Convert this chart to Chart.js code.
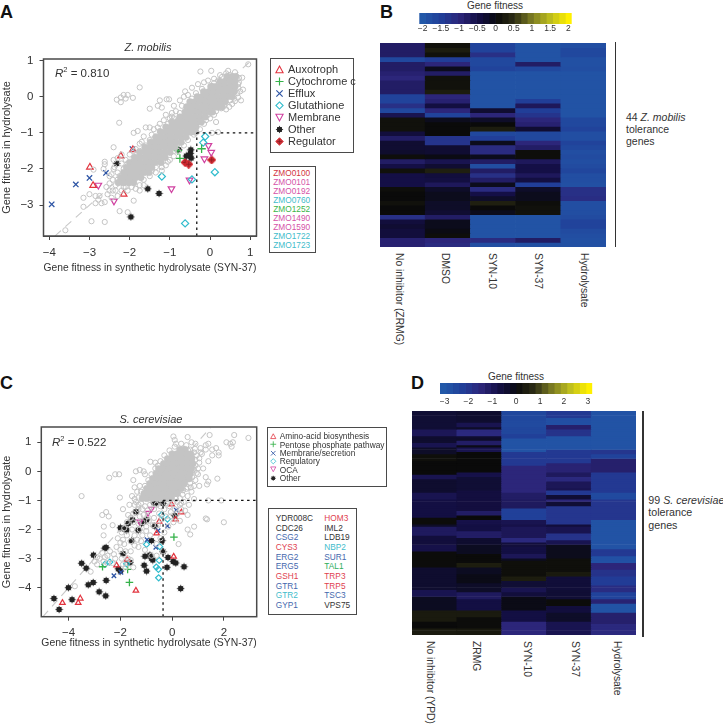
<!DOCTYPE html>
<html><head><meta charset="utf-8">
<script src="https://cdn.jsdelivr.net/npm/chart.js@4"></script>
<style>
html,body{margin:0;padding:0;background:#fff;width:723px;height:725px;overflow:hidden}
body{font-family:"Liberation Sans",Arial,sans-serif;color:#333;position:relative;filter:blur(.35px)}
canvas{position:absolute;display:block}
.t{position:absolute;white-space:nowrap;line-height:1}
.box{position:absolute;border:1.5px solid #4a4a4a;background:#fff;box-sizing:border-box}
.v{position:absolute;writing-mode:vertical-rl;white-space:nowrap;font-size:10.3px;line-height:1;transform:translateX(-50%)}
.bar{position:absolute;background:#333;width:1.6px}
.L{position:absolute;font-weight:bold;color:#111;line-height:1}
</style></head><body>
<script>
/* ---------- Panel A values ---------- */
const xTicksA=[-4,-3,-2,-1,0,1], yTicksA=[-3,-2,-1,0,1];
const xTicksC=[-4,-2,0,2], yTicksC=[-4,-3,-2,-1,0,1];
const coreRowsA=[
[.56,.42,.55,.64],[.42,.25,.37,.5,.62],[.28,.02,.14,.26,.38,.5,.62],[.14,-.16,-.03,.09,.22,.35,.47,.6],
[0,-.32,-.2,-.07,.05,.18,.3,.43,.55],[-.14,-.5,-.38,-.25,-.12,0,.13,.26,.38],[-.28,-.58,-.45,-.33,-.2,-.08,.05,.17,.3],
[-.42,-.62,-.5,-.37,-.25,-.12,0,.06],[-.56,-.75,-.62,-.5,-.37,-.25,-.12],[-.7,-.95,-.82,-.7,-.57,-.45,-.32,-.22],
[-.84,-1.1,-.97,-.85,-.72,-.6,-.47,-.35],[-.98,-1.23,-1.1,-.98,-.85,-.73,-.6,-.48,-.36],[-1.12,-1.35,-1.22,-1.1,-.97,-.85,-.72,-.6],
[-1.26,-1.48,-1.35,-1.23,-1.1,-.98,-.85,-.72],[-1.4,-1.62,-1.5,-1.37,-1.25,-1.12,-1,-.88],[-1.54,-1.75,-1.62,-1.5,-1.37,-1.25,-1.12,-1],
[-1.68,-1.87,-1.75,-1.62,-1.5,-1.37,-1.25,-1.12],[-1.82,-2,-1.87,-1.75,-1.62,-1.5,-1.37,-1.22],[-1.96,-2.08,-1.95,-1.83,-1.7,-1.58,-1.45],
[-2.1,-2.15,-2.03,-1.9,-1.78,-1.65,-1.52],[-2.24,-2.22,-2.1,-1.97,-1.85,-1.72],[-2.38,-2.28,-2.15,-2.02,-1.9]];
const openA=[[-2.32,-.08],[-2.22,-.02],[-2.15,.05],[-2.05,.05],[-2.1,-.05],[-2.22,-.15],[-1.92,-.03],[-1.75,.26],[-2.26,-.72],[-1.9,-1],
[-1.5,-.33],[-1.3,-.25],[-1.2,-.3],[-1.08,-.07],[-1.02,-.07],[-1.25,-.1],[-.85,-.4],[-.95,-.45],[-.24,.7],[.03,.72],[.1,.5],[.25,.6],[.95,.9],[.8,.53],[.82,.2],[.77,-.1],
[-3.6,-3.7],[-2.95,-3.45],[-2.62,-3.47],[-3.15,-3.05],[-3.15,-2.8],[-3,-2.7],[-2.85,-2.75],[-2.78,-2.85],[-2.7,-2.95],[-2.62,-2.92],[-2.85,-2.95],[-2.75,-2.75],
[-2.9,-2.02],[-2.62,-1.8],[-2.62,-1.87],[-2.65,-2],[-2.4,-1.4],[-2.3,-1.7],[-2.2,-1.6],[-2.25,-3.17],[-2.05,-3.2],[-1.9,-2.88],[-2.5,-2.6],[-2.58,-2.5],[-2.5,-2.4],[-2.42,-2.3],[-2.3,-2.1],[-2.35,-2.45],[-2.2,-2.6],[-2.05,-2.6],[-2.1,-2.5],[-2.42,-2.6],[-2.3,-2.75],
[-2.4,-2],[-2.45,-2.15],[-2.38,-1.95],[-2.2,-1.85],[-2.3,-2.3],[-2.55,-2.7],[-2.45,-2.8],[-2.35,-2.6],[-2.5,-2.2],[-2.4,-1.75],[-1.6,-2.1],[-1.45,-2.05],[-1.85,-2.55],[-1.75,-2.6],[-1.65,-2.45],
[-1.2,-2.05],[-1.1,-1.9],[-1,-1.75],[-1.35,-2.1],[-.9,-1.5],[-.8,-1.3],[-.65,-1.1],[-.55,-.9],[-.35,-.8],[-.1,-.65],[0,-.6],[.1,-.5],[.2,-.3],[.35,-.25],[.55,-.2],[.4,-.35],[.15,-.7],[.05,-1],[.2,-.98],
[-1.9,-1.5],[-1.75,-1.3],[-1.65,-1.1],[-1.8,-.95],[-1.6,-.85],[-1.5,-.85],[-1.4,-.9],[-1.25,-.75],[-1.1,-.5],[-1,-.6],[-.9,-.25],[-.75,-.1],[-.65,0],[-.62,.15],[-.55,.05],[-.45,.25],[-.3,.35],[-.15,.4],[-.05,.45],[.1,.38],[.2,.45],[.4,.65],[.5,.6],[.55,.55],
[-.75,-.45],[-.7,-.25],[-.45,-.05],[-.35,.1],[-.2,.22],[.05,.3],[.72,.4],[.7,.25],[.68,.1],[.6,-.05],[.5,-.1],[.45,.05],[.3,-.15],[.15,-.4],[-.05,-.5],[-.15,-.75],[-.25,-.9],[-.4,-1.05],[-.55,-1.2],[-.65,-1.35],[-.8,-1.5],[-.9,-1.65],[-1.05,-1.8],[-1.2,-1.95],[-1.35,-1.95],[-1.5,-2.2],[-1.65,-2.3],[-1.75,-2.45],[-1.95,-2.5],[-2.15,-2.5],
[-1.25,-.95],[-1.35,-1.1],[-1.5,-1.2],[-1.6,-1.35],[-1.75,-1.5],[-1.9,-1.7],[-2.05,-1.85],[-2.15,-2],[-2.25,-2.2],[-1.05,-.75],[-.9,-.6],[-.8,-.65],[-.7,-.55],
[-1.45,-1.05],[-1.3,-.85],[-1.15,-.65],[-.95,-.55],[-1.7,-1.25],[-1.85,-1.45],[-2,-1.6],[-2.1,-1.75],[-.42,-.5],[-.3,-.6],[.28,-.32],[.48,-.28],[.62,-.12],[.7,-.02],[.75,.15],[.7,.35],[.72,.52],[.62,.68],[.45,.72],[.3,.55]];
const auxotrophA=[[-2.99,-1.95],[-2.91,-2.46],[-2.15,-2.7],[-2.22,-1.64],[-1.92,-1.47]];
const cytochromeA=[[-.8,-1.49],[-.75,-1.71],[-.21,-1.44],[-1.89,-1.94],[-1.4,-1.79]];
const effluxA=[[-3.94,-2.98],[-3.34,-2.43],[-3,-2.25],[-2.59,-2.11],[-1.93,-1.45]];
const glutathioneA=[[-.12,-1.1],[-.17,-1.27],[.12,-2.09],[-1.2,-2.21],[-.45,-2.29],[-.62,-3.51]];
const membraneA=[[-.04,-1.35],[.03,-1.54],[-.14,-1.72],[-.51,-2.31],[-.96,-2.55],[-2.39,-2.89],[-2.78,-2.45]];
const otherA=[[-1.97,-3.33],[-1.27,-2.68],[-1.55,-2.55],[-2.32,-1.85],[-1.54,-1.78],[-.78,-1.47],[-.48,-1.47],[-.59,-1.64],[-.47,-1.7],[-.49,-1.57],[-.53,-1.62]];
const regulatorA=[[-.62,-1.82],[-.53,-1.87],[.04,-1.75]];
const genesA=["ZMO0100","ZMO0101","ZMO0192","ZMO0760","ZMO1252","ZMO1490","ZMO1590","ZMO1722","ZMO1723"];
const geneColorsA=["#d2353f","#d552a8","#d552a8","#3fbccb","#3cb54a","#d552a8","#d552a8","#3fbccb","#3fbccb"];
/* ---------- Panel C values ---------- */
const coreRowsC=[
[.75,.3,.5],[.6,0,.18,.37,.56,.72],[.43,-.18,0,.19,.38,.57,.76],[.26,-.33,-.14,.05,.24,.43,.62,.8],
[.09,-.52,-.33,-.14,.05,.24,.43,.62,.75],[-.08,-.62,-.43,-.24,-.05,.14,.33,.52,.7],[-.25,-.75,-.56,-.37,-.18,.01,.2,.39,.58,.66],
[-.42,-.86,-.67,-.48,-.29,-.1,.09,.28,.47],[-.59,-.98,-.79,-.6,-.41,-.22,-.03,.16,.35],[-.76,-1.08,-.89,-.7,-.51,-.32,-.13,.06,.2],
[-.93,-1.15,-.96,-.77,-.58,-.39,-.2,-.03]];
const openC=[[2.95,1.15],[2.4,1.25],[2.1,1],[2.25,.95],[2.35,1],[2.3,.85],[1.55,.75],[1.7,.8],[1.8,.65],[1.8,.55],[1.55,.55],[1.4,.95],[1.3,.9],[.05,1.2],[.1,1.08],[.15,.95],[.6,1.18],[.75,1],[.9,.95],[1.1,.8],[1.45,1.25],[1.3,.75],[1.1,.65],[.95,.55],[1.15,.6],[1.4,.35],[1.05,.3],[.9,.2],[1.2,.1],[1,-.1],[1.3,-.2],[1.4,-.35],[1.75,-.25],[1.05,-.5],[1.35,-.45],[.85,-.5],[.75,-.7],[.6,-.85],[.85,-.95],[1.4,-1],[1.9,-1],[1.3,-1.62],[1.35,-1.65],[2,-1.75],[.85,-1.9],[.7,-2.17],[.25,-2.5],[.1,-1.3],[.35,-1.3],[.6,-1.5],
[-3.5,-.85],[-2.43,-.22],[-2.2,-.1],[-2.05,-.1],[-2.7,-1.5],[-2.55,-1.4],[-2.64,-1.9],[-2.65,-2.2],[-2.3,-1.85],[-2.45,-1.55],[-2.02,-.9],[-1.4,0],[-1.5,-.3],[-1.45,-.55],[-1.35,-.7],[-1.25,-.5],[-1.05,-.1],[-.84,.33],[-.65,.3],[-.55,.2],[-1.25,.05],[-1.1,0],
[-3.76,-3.95],[-3.15,-3.45],[-3,-3.1],[-2.9,-3.2],[-2.8,-3],[-2.65,-3.1],[-2.6,-2.95],[-2.5,-2.9],[-2.4,-2.75],[-2.2,-3],[-2,-2.7],[-1.85,-2.5],[-1.9,-3.2],[-1.7,-3],[-1.8,-3.3],[-1.5,-3.3],[-1.95,-2.1],[-2.1,-2.3],[-1.9,-2.35],[-1.75,-2.2],[-1.6,-2.4],[-1.45,-2.2],[-1.3,-2.6],[-1.2,-2.4],[-1,-1.9],[-1.3,-1.8],[-1.5,-1.75],[-1.7,-1.5],[-1.9,-1.3],[-1.65,-1.15],[-1.45,-1.15],[-1.3,-1.3],[-1.1,-1.5],[-.9,-1.7],[-.7,-1.6],[-.5,-1.45],[-.3,-1.3],[-.1,-1.2],[-.05,-1.55],[.05,-1.75],[-.15,-1.9],[-.3,-2.1],[-.45,-2.3],[-.6,-2.5],[-.85,-2.2],[-1.05,-2.7],[-.8,-2.9],[-.6,-2.9],[-.35,-2.75],[.3,-1.7],[.5,-1.35],[.6,-2],[.35,-1.1],
[.85,.65],[.9,.4],[.85,.05],[.78,-.2],[.7,-.4],[.55,-.6],[.4,-.8],[.2,-1.05],[.45,-1.05],[.65,-1.15],[.7,.75],[.55,.9],[.35,.95],[.1,.85],[-.1,.72],[-.3,.55],[-.45,.35],[-.65,.1],[-.8,-.1],[-.92,-.3],[-1.05,-.5],[-1.2,-.7],[-1.3,-.9],[-1.4,-1.05],[-1.2,-1.1],[-1.05,-1.2],[-.85,-1.15],[-.7,-1.3],[-1.5,-1.45],[-1.25,-1.55],
[-1.55,-.85],[-1.45,-.95],[-1.3,-1.15],[-1.15,-1.3],[-.95,-1.35],[-.6,-1.15],[-.45,-1.2],[-.2,-1.1],[.05,-1.05],[.15,-.95],[.3,-.92],[.42,-.65],[.6,-.55],[.72,-.55],[.9,-.3],[.95,-.05],[1,.1],[1.05,.45],[.88,.78],[.62,.72],[.42,.78],
[-1.25,-2],[-1.15,-2.2],[-1,-2.05],[-.75,-1.85],[-.55,-1.85],[-.4,-1.65],[-.25,-1.55],[-.05,-1.4],[.2,-1.45],[.3,-1.15],[-.95,-1.55],[-1.15,-1.75],[-1.6,-1.6],[-1.75,-1.75],[-1.85,-1.95],[-1.55,-2],[-1.35,-2.35],[-2,-2.45],[-2.15,-2.6],[-2.25,-2.85],[-1.8,-2.75],[-1.6,-2.75],[-1.45,-2.55],[-1.95,-3],[-1.6,-3.05],[-2.3,-3.15],[-2.5,-3.15],[-2.9,-2.95],[-2.7,-2.8]];
const aminoC=[[-4.24,-4.52],[-3.63,-4.52],[-3.55,-4.37],[-2.15,-3.23],[-1.4,-4.1],[.06,-2.93],[-.6,-2.13],[-1.74,-3.03],[-.02,-1.13],[.13,-1.65],[.36,-1.41],[-.5,-1.73]];
const pentoseC=[[-2.69,-3.28],[-1.72,-3.37],[-1.65,-3.82],[.07,-2.26]];
const secretionC=[[-2.25,-3.59],[-1.98,-3.47],[-.97,-2.35],[-.63,-2.61],[-.18,-1.88],[.16,-1.33],[-.54,-2.04]];
const regulatoryC=[[-2.6,-3.2],[-2.41,-3.12],[-.99,-2.51],[-.48,-2.59],[-.5,-3.06],[-.61,-3.29],[-.53,-3.37],[-.52,-3.66],[-.41,-1.5],[-.18,-1.64],[-1.76,-3.18]];
const ocaC=[[-.93,-1.43],[-1.25,-1.73],[-.8,-1.29]];
const otherC=[[-4.57,-4.37],[-4.37,-4.75],[-4.01,-4],[-3.87,-4.41],[-3.5,-3.16],[-3.32,-3.33],[-3.04,-2.88],[-3.24,-3.9],[-3.05,-3.82],[-2.82,-4.14],[-2.57,-4.28],[-2.55,-3.75],[-2.6,-2.64],[-1.9,-2.83],[-2.08,-3.35],[-2,-3.43],[-1.63,-3.13],[-1.08,-3.23],[-.99,-3.43],[-.86,-2.88],[-.79,-2.99],[-.35,-2.76],[-.2,-3.3],[-.16,-2.96],[.04,-3.1],[.14,-3.15],[.46,-3.28],[.33,-4.03],[-1.57,-2.39],[-.8,-2.38],[-.39,-2.38],[-2,-1.94],[-1.76,-2.02],[-1.85,-1.98],[-1.53,-1.67],[-1.31,-2.02],[-1.12,-1.73],[-.99,-1.67],[-1.4,-1.39],[-.67,-1.88],[-.7,-1.08],[-.6,-1.08],[-.35,-1.1],[.1,-1.52],[-1.7,-1.79],[-1.18,-1.79],[-2.55,-2.62],[-1.05,-2.92],[-.75,-3.05]];
const genesC1=["YDR008C","CDC26","CSG2","CYS3","ERG2","ERG5","GSH1","GTR1","GTR2","GYP1"];
const geneColorsC1=["#333","#333","#4468ad","#e0414f","#4468ad","#4468ad","#e0414f","#4468ad","#3fbccb","#4468ad"];
const genesC2=["HOM3","IML2","LDB19","NBP2","SUR1","TAL1","TRP3","TRP5","TSC3","VPS75"];
const geneColorsC2=["#e0414f","#333","#333","#3fbccb","#4468ad","#2fae5a","#e0414f","#e0414f","#4468ad","#333"];
/* ---------- Panel B values (44 genes, top to bottom) ---------- */
const colsB=["No inhibitor (ZRMG)","DMSO","SYN-10","SYN-37","Hydrolysate"];
const bNoInhibitor=[-.8,-.8,-.8,-1.7,-.8,-.8,-.9,-1,-.8,-.8,-.8,-1.6,-1.6,-1.2,-1.7,-.6,.1,.1,.1,-.4,-.8,-.3,-.3,-.25,.05,-.8,-.5,.1,-.5,-.5,-.5,.05,0,0,.1,0,0,-1.2,-.4,-.3,-.4,-.4,-.9,-.9];
const bDMSO=[.1,.25,.1,-1.5,-1,-.1,-.8,.1,.1,.1,.25,-1,-.9,-.45,-1,-1.6,-.1,0,0,0,-1.3,-1.3,-.3,-.3,-.05,-.6,-.3,.3,-.4,-.45,-.7,-.2,-.1,-.1,-.2,-.2,-.3,-.8,-.1,-.1,-.05,.05,-1,-1.1];
const bSYN10=[-1.6,-1.6,-1.2,-1.7,-1.7,-1.6,-1.9,-1.9,-1.9,-1.9,-1.9,-1.9,-1.9,-1.9,-.3,-1,-.2,0,.25,-1.7,-1.5,-.1,-1.1,-1.1,-.1,-.8,-1.8,-.8,-1.2,-.8,-.1,-1.1,-.5,-.2,.3,0,-.1,-1.9,-1.9,-1.9,-1.9,-1.9,-1.1,-1.8];
const bSYN37=[-1.9,-1.9,-1.9,-1.9,-.8,-1.7,-1.9,-1.9,-1.9,-1.9,-1.9,-1.9,-1.5,-.7,-1.5,-1.3,-1,-.9,-.3,-1.7,-1.7,-1,-.8,.05,.05,-.7,-.5,-.5,-.7,-.45,-1.5,-.2,-.1,-.1,.05,.1,.1,-1.9,-1.9,-1.9,-1.9,-1.9,-.8,-1.85];
const bHydrolysate=[-1.8,-1.7,-1.7,-1.85,-1.85,-1.8,-1.9,-1.9,-1.9,-1.9,-1.9,-1.9,-1.9,-1.9,-1.9,-1.9,-1.7,-1.7,-1.6,-1.8,-1.8,-1.6,-1.7,-1.8,-1.75,-1.8,-1.75,-1.65,-1.8,-1.8,-1.85,-1.2,-1.2,-1.15,-1.8,-1.8,-1.8,-1.75,-1.6,-1.6,-1.75,-1.8,-1.85,-1.85];
/* ---------- Panel D values as [fitness, number of consecutive genes], 99 genes ---------- */
const colsD=["No inhibitor (YPD)","ZRMG","SYN-10","SYN-37","Hydrolysate"];
const dNoInhibitor=[[-.5,8],[-1,3],[-.4,3],[-.9,2],[-.3,3],[.1,3],[0,6],[-.9,2],[-.4,6],[-.9,3],[-.7,8],[.05,3],[-.3,1],[-1.1,4],[-.6,4],[-.8,3],[.05,3],[.05,4],[-.4,10],[-.9,3],[-.2,6],[.35,5],[0,3],[.35,3]];
const dZRMG=[[-.4,5],[-.9,2],[-.3,1],[-1.6,3],[-.4,1],[-.3,1],[-1.2,2],[-.1,1],[-.9,2],[0,9],[-.8,2],[-.5,6],[-.65,9],[-1.2,2],[0,2],[-.8,2],[-.7,3],[-1.2,3],[-.4,3],[-.2,4],[.03,4],[.4,2],[-.2,3],[-.1,4],[-.3,4],[-1.1,3],[-.7,5],[.35,3],[.05,5],[.3,3]];
const dSYN10=[[-2.5,4],[-2.6,3],[-2.5,3],[-2.3,2],[-2.85,6],[-2.1,6],[-1.5,12],[-1.2,3],[-1.1,4],[-2.3,5],[-.9,2],[-.8,1],[-1,5],[-1.6,2],[-.6,2],[-.7,3],[-1,2],[-.2,1],[.1,7],[.4,2],[-.5,3],[-.9,2],[-.6,2],[-.1,6],[-.7,5],[-1.5,6]];
const dSYN37=[[-2.1,3],[-2.75,3],[-1.3,2],[-1.9,3],[-2.85,6],[-2.1,6],[-1.4,4],[-1.1,2],[-1.6,2],[-1,3],[-.9,1],[-2.1,2],[-.5,2],[-1.5,1],[-.5,2],[-2,5],[-2,3],[-.6,1],[-.9,3],[-1.9,3],[-.9,2],[-.15,6],[.1,6],[.35,2],[-.55,6],[-.5,4],[.05,3],[-.6,3],[-.3,4],[-.9,6]];
const dHydrolysate=[[-2.85,17],[-2,2],[-2.4,2],[-1.3,6],[-2.1,9],[-2.6,3],[-2,6],[-2,3],[-2.85,2],[-2.85,11],[-2.1,3],[-2.8,3],[-1.5,3],[-1.9,3],[-2.2,4],[-1.7,3],[-2.4,3],[-1.4,2],[-2.85,4],[-1.3,5],[-1.6,5]];
const colorTicksB=[-2,-1.5,-1,-.5,0,.5,1,1.5,2], colorTicksD=[-3,-2,-1,0,1,2,3];

/* ---------- helpers ---------- */
const FONT='"Liberation Sans",Arial,sans-serif', INK='#333';
const pts=a=>a.map(p=>({x:p[0],y:p[1]}));
const rows=r=>r.flatMap(row=>row.slice(1).map(x=>({x,y:row[0]})));
const minus=v=>String(v).replace('-','\u2212');
const el=(tag,cls,css,html)=>{const e=document.createElement(tag);e.className=cls||'';e.style.cssText=css||'';if(html!=null)e.innerHTML=html;document.body.appendChild(e);return e;};
const cv=(l,t,w,h)=>{const c=el('canvas','',`left:${l}px;top:${t}px;width:${w}px;height:${h}px`);c.width=w;c.height=h;return c;};
function blobStar(){const c=document.createElement('canvas');c.width=c.height=9;const g=c.getContext('2d');g.fillStyle=g.strokeStyle='#222';g.lineWidth=.8;g.beginPath();g.arc(4.5,4.5,2.8,0,7);g.fill();
 for(let i=0;i<4;i++){const a=i*Math.PI/4,dx=3.7*Math.cos(a),dy=3.7*Math.sin(a);g.beginPath();g.moveTo(4.5-dx,4.5-dy);g.lineTo(4.5+dx,4.5+dy);g.stroke();}return c;}
function plusDiamond(){const c=document.createElement('canvas');c.width=c.height=9;const g=c.getContext('2d');g.strokeStyle='#d4282f';g.fillStyle='#c93038';g.lineWidth=1.2;g.beginPath();g.moveTo(4.5,.6);g.lineTo(8.4,4.5);g.lineTo(4.5,8.4);g.lineTo(.6,4.5);g.closePath();g.fill();g.stroke();g.strokeStyle='#8c1a20';g.lineWidth=.8;g.beginPath();g.moveTo(4.5,2);g.lineTo(4.5,7);g.moveTo(2,4.5);g.lineTo(7,4.5);g.stroke();return c;}
const STAR=blobStar(), REG=plusDiamond();
const style={
 tri:{pointStyle:'triangle',pointRadius:3.8,pointBorderColor:'#e2343f',pointBackgroundColor:'transparent',pointBorderWidth:1.2},
 plus:{pointStyle:'cross',pointRadius:4.2,pointBorderColor:'#35b24a',pointBorderWidth:1.3},
 x:{pointStyle:'crossRot',pointRadius:3.8,pointBorderColor:'#2e55a5',pointBorderWidth:1.3},
 dia:{pointStyle:'rectRot',pointRadius:3.6,pointBorderColor:'#30bccd',pointBackgroundColor:'transparent',pointBorderWidth:1.2},
 inv:{pointStyle:'triangle',pointRotation:180,pointRadius:3.8,pointBorderColor:'#d040a0',pointBackgroundColor:'transparent',pointBorderWidth:1.2},
 star:{pointStyle:STAR},
 reg:{pointStyle:REG}
};
const series=(label,data,st,scale)=>{const s=Object.assign({label,data:pts(data),showLine:false},style[st]);if(scale&&s.pointRadius)s.pointRadius*=scale;return s;};
const frame={id:'frame',afterDraw(c){const a=c.chartArea,g=c.ctx;g.save();g.strokeStyle='#4a4a4a';g.lineWidth=1.5;g.strokeRect(a.left,a.top,a.right-a.left,a.bottom-a.top);g.restore();}};
function scatterPanel(canvas,o){
 const dash=(label,d,col,dashArr,w)=>({label,data:d,showLine:true,pointRadius:0,borderColor:col,borderDash:dashArr,borderWidth:w,fill:false});
 const datasets=[
  dash('cutoff x',[{x:o.cutX,y:o.ymin},{x:o.cutX,y:-1}],'#111',[2.5,3.5],1.3),
  dash('cutoff y',[{x:o.cutX,y:-1},{x:o.xmax,y:-1}],'#111',[2.5,3.5],1.3),
  {label:'all genes',data:o.open,showLine:false,pointRadius:2.6,pointBorderWidth:1,pointBorderColor:'#c4c4c4',pointBackgroundColor:'transparent'},
  {label:'all genes (dense)',data:o.core,showLine:false,pointRadius:3.3,pointBorderWidth:.6,pointBorderColor:'#c4c4c4',pointBackgroundColor:'#c4c4c4'},
  ...o.marks,
  dash('y = x',o.diag,'#c8c8c8',[8,6],1.1)
 ];
 new Chart(canvas,{type:'scatter',data:{datasets},plugins:[frame],options:{
  responsive:false,animation:false,events:[],
  layout:{padding:{left:0,top:o.top,right:o.right,bottom:0}},
  plugins:{legend:{display:false},tooltip:{enabled:false},title:{display:false}},
  scales:{
   x:{type:'linear',min:o.xmin,max:o.xmax,afterFit:s=>{s.height=o.axisH;},afterBuildTicks:s=>{s.ticks=o.xt.map(v=>({value:v}));},
      grid:{drawOnChartArea:false,drawTicks:true,tickLength:4,color:'#444'},border:{color:'#4a4a4a'},
      ticks:{color:INK,font:{family:FONT,size:11.5},padding:o.xPad,callback:minus,maxRotation:0,autoSkip:false},
      title:{display:true,text:'Gene fitness in synthetic hydrolysate (SYN-37)',color:INK,font:{family:FONT,size:11},padding:{top:3,bottom:o.titleUp}}},
   y:{type:'linear',min:o.ymin,max:o.ymax,afterFit:s=>{s.width=o.axisW;},afterBuildTicks:s=>{s.ticks=o.yt.map(v=>({value:v}));},
      grid:{drawOnChartArea:false,drawTicks:true,tickLength:4,color:'#444'},border:{color:'#4a4a4a'},
      ticks:{color:INK,font:{family:FONT,size:11.5},padding:6,callback:minus,autoSkip:false},
      title:{display:true,text:'Gene fitness in hydrolysate',color:INK,font:{family:FONT,size:11},padding:{top:0,bottom:0}}}
  }}});
}
const stops=[[-1,34,88,168],[-.75,33,62,152],[-.5,44,38,122],[-.25,20,15,70],[-.06,12,12,32],[0,10,10,10],[.25,45,45,20],[.5,125,125,35],[.75,190,190,30],[1,255,240,0]];
function heatColor(v,vmax){const n=Math.max(-1,Math.min(1,v/vmax));for(let i=1;i<stops.length;i++){if(n<=stops[i][0]){const a=stops[i-1],b=stops[i],t=(n-a[0])/(b[0]-a[0]);return `rgb(${[1,2,3].map(k=>Math.round(a[k]+(b[k]-a[k])*t)).join(',')})`;}}return 'rgb(255,240,0)';}
function heatPanel(canvas,cols,matrix,vmax){
 const n=matrix[0].length;
 const datasets=[];
 for(let r=0;r<n;r++)datasets.push({label:'gene '+(r+1),data:cols.map(()=>1),backgroundColor:matrix.map(m=>heatColor(m[r],vmax)),borderWidth:0,barPercentage:1,categoryPercentage:1});
 new Chart(canvas,{type:'bar',data:{labels:cols,datasets},options:{responsive:false,animation:false,events:[],layout:{padding:0},
  plugins:{legend:{display:false},tooltip:{enabled:false}},
  scales:{x:{display:false,stacked:true},y:{display:false,stacked:true,min:0,max:n,reverse:true}}}});
}
function colorBar(canvas,tickVals,vmax,lim,steps,padL,padR,padT,axisH,tickPad){
 const w=2*lim/steps,datasets=[];
 for(let i=0;i<steps;i++){const lo=-lim+i*w;datasets.push({label:'level '+i,data:[[lo,lo+w]],backgroundColor:heatColor(lo+w/2,vmax),borderWidth:0,barPercentage:1,categoryPercentage:1,grouped:false});}
 new Chart(canvas,{type:'bar',data:{labels:['Gene fitness'],datasets},options:{indexAxis:'y',responsive:false,animation:false,events:[],layout:{padding:{left:padL,right:padR,top:padT,bottom:0}},
  plugins:{legend:{display:false},tooltip:{enabled:false}},
  scales:{y:{display:false},x:{type:'linear',min:-lim,max:lim,afterFit:s=>{s.height=axisH;},afterBuildTicks:s=>{s.ticks=tickVals.map(v=>({value:v}));},border:{display:false},grid:{display:false,drawTicks:false,tickLength:0},
   ticks:{color:INK,font:{family:FONT,size:8.5},padding:tickPad,callback:minus,maxRotation:0,autoSkip:false}}}}});
}
const expand=runs=>runs.flatMap(([v,c])=>Array(c).fill(v));
const svgMark={
 tri:'<path d="M5 1.2 L9 8.6 L1 8.6 Z" fill="none" stroke="#e2343f" stroke-width="1.2"/>',
 plus:'<path d="M5 .5V9.5M.5 5H9.5" stroke="#35b24a" stroke-width="1.3"/>',
 x:'<path d="M1.5 1.5L8.5 8.5M8.5 1.5L1.5 8.5" stroke="#2e55a5" stroke-width="1.3"/>',
 dia:'<path d="M5 1L9 5L5 9L1 5Z" fill="none" stroke="#30bccd" stroke-width="1.2"/>',
 inv:'<path d="M5 8.8 L9 1.4 L1 1.4 Z" fill="none" stroke="#d040a0" stroke-width="1.2"/>',
 star:'<circle cx="5" cy="5" r="3" fill="#222"/><path d="M5 1V9M1 5H9M2.2 2.2L7.8 7.8M7.8 2.2L2.2 7.8" stroke="#222" stroke-width=".9"/>',
 reg:'<path d="M5 .8L9.2 5L5 9.2L.8 5Z" fill="#c93038" stroke="#d4282f"/><path d="M5 2.5V7.5M2.5 5H7.5" stroke="#8c1a20" stroke-width=".8"/>'
};
function legendRow(x,y,mx,text,mark,size,msize){
 el('div','',`position:absolute;left:${mx-msize/2}px;top:${y-msize/2}px;width:${msize}px;height:${msize}px`,`<svg width="${msize}" height="${msize}" viewBox="0 0 10 10" style="display:block">${svgMark[mark]}</svg>`);
 el('div','t',`left:${x}px;top:${y-size/2}px;font-size:${size}px`,text);
}
const txt=(x,y,size,html,extra)=>el('div','t',`left:${x}px;top:${y-size/2}px;font-size:${size}px;${extra||''}`,html);
const ctr=(x,y,size,html,extra)=>el('div','t',`left:${x}px;top:${y-size/2}px;font-size:${size}px;transform:translateX(-50%);${extra||''}`,html);
/* ---------- panel letters ---------- */
[["A",0,3,18],["B",380,3,18],["C",0,374,18],["D",411,374,18]].forEach(([s,x,y,z])=>el('div','L',`left:${x}px;top:${y}px;font-size:${z}px`,s));
/* ---------- A ---------- */
scatterPanel(cv(0,40,262,240),{top:19,right:5,axisW:43.5,axisH:44,xPad:6,titleUp:5,xmin:-4.144,xmax:1.156,ymin:-3.859,ymax:1.047,cutX:-.33,xt:xTicksA,yt:yTicksA,
 open:pts(openA),core:rows(coreRowsA),diag:[{x:-3.86,y:-3.86},{x:1,y:.98}],
 marks:[series('Auxotroph',auxotrophA,'tri'),series('Cytochrome c',cytochromeA,'plus'),series('Efflux',effluxA,'x'),series('Glutathione',glutathioneA,'dia'),series('Membrane',membraneA,'inv'),series('Other',otherA,'star'),series('Regulator',regulatorA,'reg')]});
ctr(148,47.7,11,'Z. mobilis','font-style:italic');
txt(55,74,11.5,'<i>R</i><sup style="font-size:7.5px;line-height:0">2</sup> = 0.810');
el('div','box','left:270px;top:57.5px;width:84px;height:95.5px');
[["Auxotroph","tri",69.7],["Cytochrome c","plus",81.7],["Efflux","x",93.3],["Glutathione","dia",105.3],["Membrane","inv",117.3],["Other","star",129],["Regulator","reg",141]].forEach(([t,m,y])=>legendRow(288,y,279.5,t,m,11,9));
el('div','box','left:268.7px;top:165.7px;width:47.5px;height:87.8px');
genesA.forEach((g,i)=>txt(273.3,173+i*9,8.3,g,`color:${geneColorsA[i]}`));
/* ---------- B ---------- */
ctr(495,5.5,10,'Gene fitness');
colorBar(cv(410,8,172,30),colorTicksB,2,2.09,24,9.3,10.3,5,14,0);
heatPanel(cv(380,43,226,204),colsB,[bNoInhibitor,bDMSO,bSYN10,bSYN37,bHydrolysate],2);
[399,445,491.7,538,584].forEach((x,i)=>el('div','v',`left:${x}px;top:253px`,colsB[i]));
el('div','bar','left:614.5px;top:42px;height:205px');
txt(626,117,10.5,'44 <i>Z. mobilis</i>');txt(626,129.3,10.5,'tolerance');txt(626,141.7,10.5,'genes');
/* ---------- C ---------- */
scatterPanel(cv(0,405,262,245),{top:22,right:4.7,axisW:41.3,axisH:33.3,xPad:5,titleUp:0,xmin:-5.057,xmax:3.27,ymin:-4.998,ymax:1.526,cutX:-.35,xt:xTicksC,yt:yTicksC,
 open:pts(openC),core:rows(coreRowsC),diag:[{x:-5,y:-5},{x:1.48,y:1.5}],
 marks:[series('Amino-acid biosynthesis',aminoC,'tri',.84),series('Pentose phosphate pathway',pentoseC,'plus',.9),series('Membrane/secretion',secretionC,'x',.82),series('Regulatory',regulatoryC,'dia',.85),series('OCA',ocaC,'inv',.84),series('Other',otherC,'star')]});
ctr(151,419,11,'S. cerevisiae','font-style:italic');
txt(52,443,11.5,'<i>R</i><sup style="font-size:7.5px;line-height:0">2</sup> = 0.522');
el('div','box','left:267px;top:427px;width:120px;height:60px');
[["Amino-acid biosynthesis","tri",436.3],["Pentose phosphate pathway","plus",444.7],["Membrane/secretion","x",453],["Regulatory","dia",461.3],["OCA","inv",469.7],["Other","star",478]].forEach(([t,m,y])=>legendRow(279.7,y,273.3,t,m,8.3,6.5));
el('div','box','left:268.3px;top:508.3px;width:89px;height:106.7px');
genesC1.forEach((g,i)=>txt(275.7,518+i*9.67,8.3,g,`color:${geneColorsC1[i]}`));
genesC2.forEach((g,i)=>txt(324.3,518+i*9.67,8.3,g,`color:${geneColorsC2[i]}`));
/* ---------- D ---------- */
ctr(516,376.7,10,'Gene fitness');
colorBar(cv(430,378,172,30),colorTicksD,3,3.19,24,10,9.7,5,14,2.5);
heatPanel(cv(412,411,224,224),colsD,[expand(dNoInhibitor),expand(dZRMG),expand(dSYN10),expand(dSYN37),expand(dHydrolysate)],3);
[430,475.7,527.3,575,616.7].forEach((x,i)=>el('div','v',`left:${x}px;top:641px`,colsD[i]));
el('div','bar','left:642px;top:411px;height:225.7px');
txt(648.3,500,10.7,'99 <i>S. cerevisiae</i>');txt(648.3,512.7,10.7,'tolerance');txt(648.3,525.3,10.7,'genes');
</script>
</body></html>
